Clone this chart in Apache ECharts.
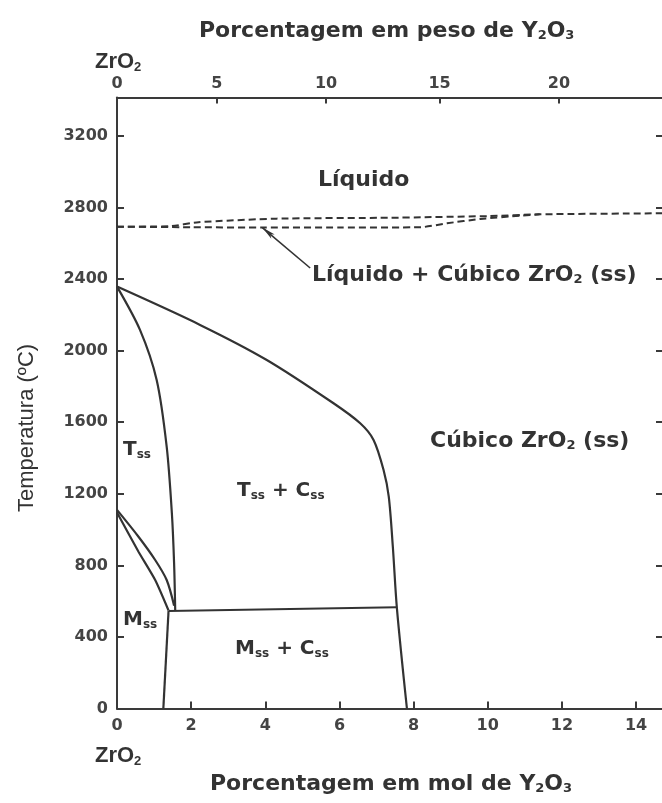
<!DOCTYPE html>
<html>
<head>
<meta charset="utf-8">
<script src="https://cdn.jsdelivr.net/npm/echarts@6/dist/echarts.min.js"></script>
<style>html,body{margin:0;padding:0;background:#fff;}#c{width:662px;height:803px;}</style>
</head>
<body>
<div id="c"></div>
<script>
// ---- axes ----
var molTicks = [0, 2, 4, 6, 8, 10, 12, 14];
var weightLabels = [0, 5, 10, 15, 20];
var weightTickMol = [0, 2.69, 5.64, 8.70, 11.92];
var tempTicks = [0, 400, 800, 1200, 1600, 2000, 2400, 2800, 3200];
var xMax = 14.7, yMax = 3415;

// ---- phase boundaries [mol% Y2O3, °C] ----
var liquidus = [[0,2693],[1.4,2695],[2.2,2718],[4.3,2738],[7.4,2743],[8.3,2746],[10,2752],[11.4,2762],[14.7,2768]];
var solidus = [[0,2693],[2,2690],[4,2688],[6,2688],[8.2,2690],[8.9,2712],[9.8,2736],[10.9,2755],[11.4,2762]];
var cubicBoundary = [[0,2358],[2.24,2144],[4.04,1948],[5.84,1706],[6.56,1594],[6.92,1501],[7.19,1333],[7.33,1184],[7.44,904],[7.55,560],[7.82,0]];
var tetragBoundary = [[0,2358],[0.62,2116],[1.07,1836],[1.34,1463],[1.48,1091],[1.54,812],[1.57,551]];
var eutectoid = [[1.39,545],[7.55,566]];
var monoBoundary = [[1.39,545],[1.25,0]];
var mtUpper = [[0,1110],[0.58,960],[1.03,830],[1.34,718],[1.54,575]];
var mtLower = [[0,1095],[0.58,876],[1.03,718],[1.39,548]];
var arrowFrom = [5.21,2462], arrowTo = [3.92,2688];

var C = '#333';
var lw = 2.2;
function solid(data, smooth){
  return {type:'line', data:data, showSymbol:false, symbol:'none', smooth:smooth||0, silent:true,
    lineStyle:{color:C, width:lw}, xAxisIndex:0, yAxisIndex:0, z:3};
}
function dashed(data){
  return {type:'line', data:data, showSymbol:false, symbol:'none', smooth:0.2, silent:true,
    lineStyle:{color:C, width:2, type:[7,4]}, xAxisIndex:0, yAxisIndex:0, z:3};
}

var chart = echarts.init(document.getElementById('c'), null, {renderer:'canvas'});
var tickFont = {fontFamily:'DejaVu Sans', fontWeight:'bold', fontSize:16, color:'#444'};
var axLine = {show:true, onZero:false, lineStyle:{color:'#3a3a3a', width:2}};
var tickStyle = {color:'#3a3a3a', width:2};

function txt(x, y, text, size, family, extra){
  family = family || 'DejaVu Sans';
  var o = {type:'text', left:x, top:y, silent:true, z:10,
    style:{text:text, fontFamily:family, fontWeight:'bold', fontSize:size, fill:C,
      rich:{s:{fontSize:Math.round(size*0.6), fontFamily:family, fontWeight:'bold', fill:C, padding:[Math.round(size*0.45),0,0,0]}}}};
  if(extra){ for(var k in extra) o[k]=extra[k]; }
  return o;
}
function plain(v){ return String(v); }

var option = {
  animation:false,
  grid:{left:117, right:0, top:97.5, bottom:94.5, containLabel:false},
  xAxis:[
    {type:'value', position:'bottom', min:0, max:xMax, interval:2,
     axisLine:axLine, splitLine:{show:false},
     axisTick:{show:true, inside:true, length:7, lineStyle:tickStyle, customValues:molTicks},
     axisLabel:Object.assign({margin:9, customValues:molTicks, formatter:plain}, tickFont)},
    {type:'value', position:'top', min:0, max:xMax,
     axisLine:axLine, splitLine:{show:false},
     axisTick:{show:true, inside:true, length:6, lineStyle:tickStyle, customValues:weightTickMol},
     axisLabel:Object.assign({margin:6, customValues:weightTickMol, formatter:function(v){
        var i = weightTickMol.indexOf(v); return i>=0 ? String(weightLabels[i]) : '';}}, tickFont)}
  ],
  yAxis:[
    {type:'value', position:'left', min:0, max:yMax, interval:400,
     axisLine:axLine, splitLine:{show:false},
     axisTick:{show:true, inside:true, length:7, lineStyle:tickStyle, customValues:tempTicks},
     axisLabel:Object.assign({margin:9, customValues:tempTicks, formatter:plain}, tickFont)},
    {type:'value', position:'right', min:0, max:yMax, interval:400,
     axisLine:{show:false, onZero:false}, splitLine:{show:false},
     axisTick:{show:true, inside:true, length:6, lineStyle:tickStyle, customValues:tempTicks},
     axisLabel:{show:false}}
  ],
  series:[
    dashed(liquidus),
    Object.assign(dashed(solidus), {markLine:{silent:true, symbol:['none','arrow'], symbolSize:[4,14],
      label:{show:false}, lineStyle:{color:C, width:1.6, type:'solid'},
      data:[[{coord:arrowFrom},{coord:arrowTo}]]}}),
    solid(cubicBoundary, 0.3),
    solid(tetragBoundary, 0.3),
    solid(eutectoid),
    solid(monoBoundary),
    solid(mtUpper, 0.3),
    solid(mtLower, 0.2)
  ],
  graphic:[
    txt(199, 20, 'Porcentagem em peso de Y{s|2}O{s|3}', 22),
    txt(95, 51, 'ZrO{s|2}', 22, 'Liberation Sans'),
    txt(95, 745, 'ZrO{s|2}', 22, 'Liberation Sans'),
    txt(210, 773, 'Porcentagem em mol de Y{s|2}O{s|3}', 22),
    {type:'text', x:27, y:428, rotation:Math.PI/2, silent:true, z:10,
     style:{text:'Temperatura (ºC)', fontFamily:'Liberation Sans', fontSize:22, fill:C, align:'center', verticalAlign:'middle'}},
    txt(318, 169, 'Líquido', 22),
    txt(312, 264, 'Líquido + Cúbico ZrO{s|2} (ss)', 22),
    txt(430, 430, 'Cúbico ZrO{s|2} (ss)', 22),
    txt(123, 440, 'T{s|ss}', 20),
    txt(237, 481, 'T{s|ss} + C{s|ss}', 20),
    txt(123, 610, 'M{s|ss}', 20),
    txt(235, 639, 'M{s|ss} + C{s|ss}', 20)
  ]
};
chart.setOption(option);
</script>
</body>
</html>
